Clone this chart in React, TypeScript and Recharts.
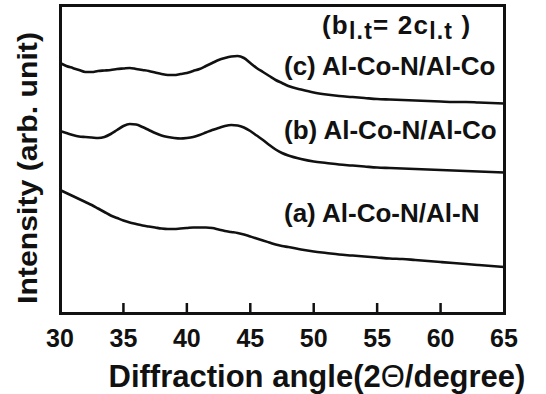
import React from 'react';
import { LineChart, Line, XAxis, YAxis, ReferenceLine, Customized } from 'recharts';

// diffraction angle (2θ, degree)
const angles = [
  30, 30.5, 31, 31.5, 32, 32.5, 33, 33.5, 34, 34.5, 35, 35.5, 36, 36.5, 37, 37.5, 38, 38.5, 39, 39.5,
  40, 40.5, 41, 41.5, 42, 42.5, 43, 43.5, 44, 44.5, 45, 45.5, 46, 46.5, 47, 47.5, 48,
  49, 50, 51, 52, 53, 54, 55, 56, 57, 58, 59, 60, 61, 62, 63, 64, 65,
];

// intensities (arb. unit), curves offset for display
const seriesC = [
  250, 247, 245, 243, 241, 241, 242, 242.5, 243, 244, 244.5, 245, 244, 243, 242, 240.5, 239, 238, 238, 239,
  240, 242, 244, 247, 250, 253, 255, 256.5, 257, 255, 250, 245, 241, 237, 233, 230, 227,
  223.5, 220.5, 218.5, 217, 216, 215, 214, 213.5, 213, 212.5, 212, 211.5, 211, 211, 210.5, 210, 209.5,
];
const seriesB = [
  182, 180, 178, 176.5, 176, 175.5, 175, 176, 179, 183, 187, 189, 188.5, 186, 183, 180, 177.5, 176, 175, 174.5,
  175, 176, 178, 180.5, 183, 185, 187, 188, 187.5, 185.5, 182, 177.5, 173, 168, 163.5, 160, 157.5,
  154, 151.5, 150, 148.5, 147.5, 146.5, 145.5, 145, 144.5, 144, 143.5, 143, 142.5, 142, 141.5, 141, 140.5,
];
const seriesA = [
  123, 120, 117, 114, 111, 108, 104.5, 101, 97.5, 95, 92.5, 90.5, 89, 87.5, 86.5, 85.5, 84.5, 84, 84, 84.5,
  85, 85.5, 85.5, 85.5, 85, 83.5, 82, 81, 80, 78.5, 76.5, 74.5, 72.5, 70.5, 68.5, 67, 66,
  63.5, 61.5, 60, 58.5, 57.5, 56.5, 55.5, 54.5, 54, 53, 52, 51, 50, 49, 48, 47, 46,
];

const xTicks = [30, 35, 40, 45, 50, 55, 60, 65];
const innerTicks = [35, 40, 45, 50, 55, 60];

const data = angles.map((angle, i) => ({
  angle,
  a: seriesA[i],
  b: seriesB[i],
  c: seriesC[i],
}));

const INK = '#111';
const FONT = '"Liberation Sans", Arial, sans-serif';
const W = 546;
const H = 394;
const MARGIN = { top: 5, right: 42, bottom: 21, left: 60 };
const X_AXIS_H = 60;
const X_DOMAIN = [30, 65];

// plot box, from the same numbers the chart gets as margins
const plotLeft = MARGIN.left;
const plotRight = W - MARGIN.right;
const plotTop = MARGIN.top;
const plotBottom = H - MARGIN.bottom - X_AXIS_H;

const Annotations = () => (
  <g fontFamily={FONT} fontWeight="bold" fill={INK}>
    <text transform="translate(37,168) rotate(-90) scale(1.08,1)" textAnchor="middle" fontSize={28}>
      Intensity (arb. unit)
    </text>
    <text x={317} y={387} textAnchor="middle" fontSize={31}>
      Diffraction angle(2<tspan fontWeight="normal">Θ</tspan>/degree)
    </text>
    <text x={322} y={34} fontSize={26} letterSpacing={1.2}>
      (b<tspan fontSize={23} dy={5}>l.t</tspan>
      <tspan dy={-5}>= 2c</tspan>
      <tspan fontSize={23} dy={5}>l.t</tspan>
      <tspan dy={-5}> )</tspan>
    </text>
    <text x={284} y={75} fontSize={26}>(c) Al-Co-N/Al-Co</text>
    <text x={284} y={139} fontSize={26}>(b) Al-Co-N/Al-Co</text>
    <text x={284} y={222} fontSize={26}>(a) Al-Co-N/Al-N</text>
  </g>
);

export default function App() {
  return (
    <div style={{ position: 'absolute', left: 0, top: 0, width: W, height: H, background: '#fff' }}>
      <LineChart width={W} height={H} data={data} margin={MARGIN}>
        <XAxis
          dataKey="angle"
          type="number"
          domain={X_DOMAIN}
          ticks={xTicks}
          axisLine={false}
          tickLine={false}
          tickMargin={10}
          tick={{ fill: INK, fontSize: 25, fontWeight: 'bold', fontFamily: FONT }}
          height={X_AXIS_H}
        />
        <YAxis domain={[0, 308]} width={0} axisLine={false} tick={false} />
        <Line dataKey="c" type="monotone" stroke={INK} strokeWidth={2.6} dot={false} isAnimationActive={false} />
        <Line dataKey="b" type="monotone" stroke={INK} strokeWidth={2.6} dot={false} isAnimationActive={false} />
        <Line dataKey="a" type="monotone" stroke={INK} strokeWidth={2.6} dot={false} isAnimationActive={false} />
        {innerTicks.map((t) => (
          <ReferenceLine key={t} segment={[{ x: t, y: 0 }, { x: t, y: 10 }]} stroke={INK} strokeWidth={2.5} />
        ))}
        <Customized component={Annotations} />
      </LineChart>
      {/* plot frame */}
      <div
        style={{
          position: 'absolute',
          left: plotLeft - 1.5,
          top: plotTop - 1.5,
          width: plotRight - plotLeft + 3,
          height: plotBottom - plotTop + 3,
          border: `3px solid ${INK}`,
          boxSizing: 'border-box',
          pointerEvents: 'none',
        }}
      />
    </div>
  );
}
